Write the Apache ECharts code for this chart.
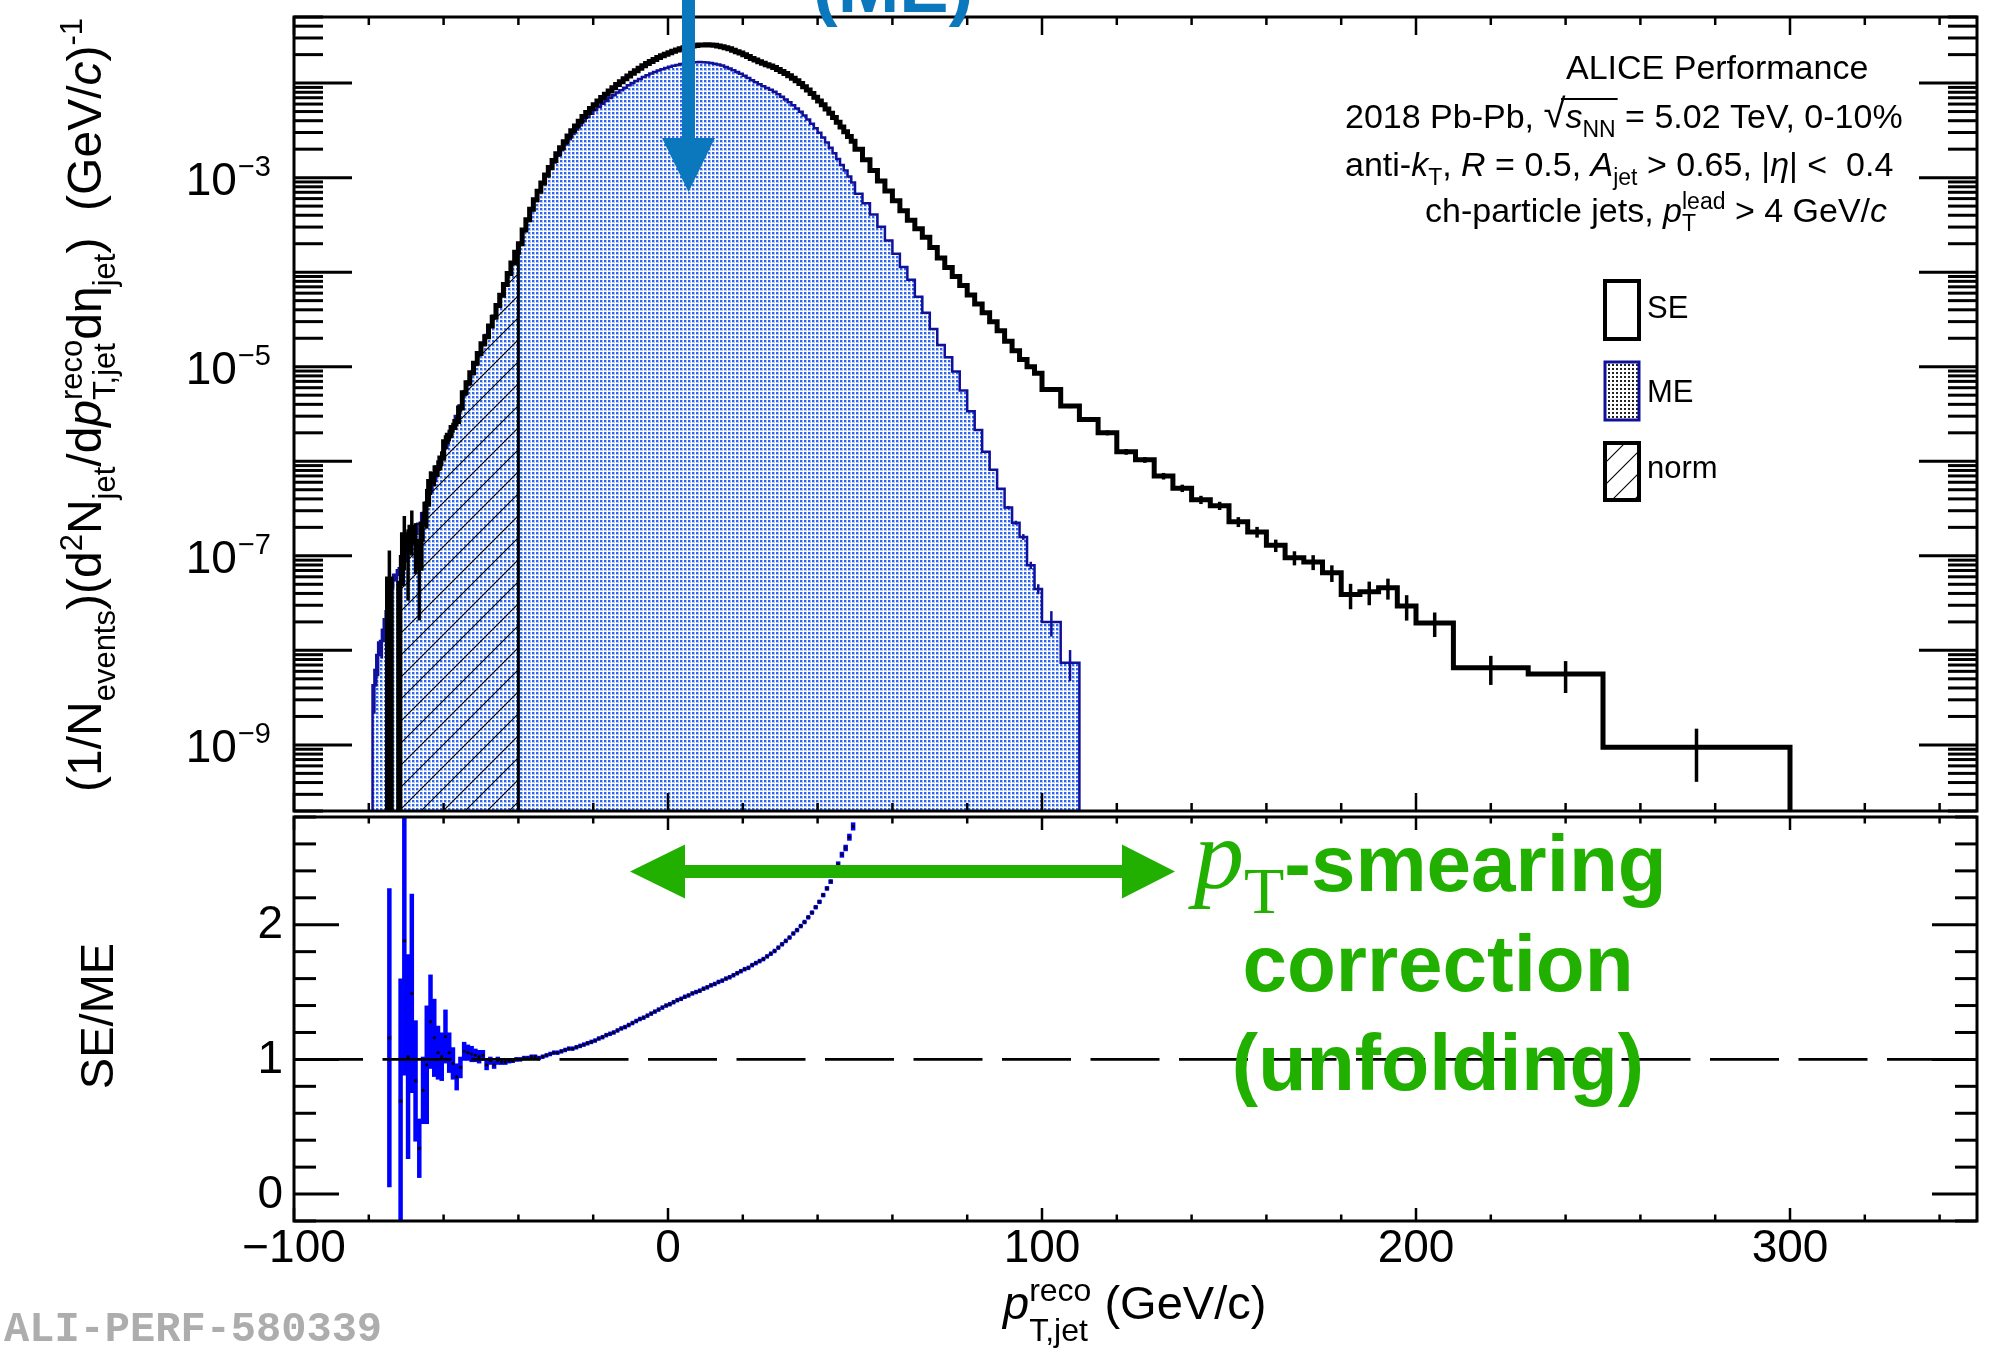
<!DOCTYPE html>
<html><head><meta charset="utf-8">
<script src="https://cdn.jsdelivr.net/npm/echarts@6/dist/echarts.min.js"></script>
<style>html,body{margin:0;padding:0;background:#fff}#c{width:2003px;height:1349px}</style>
</head><body><div id="c"></div>
<script>
// ================= DATA =================
const binEdges = [
  -80,-79,-78,-77,-76,-75,-74,-73,-72,-71,-70,-69,-68,-67,-66,-65,-64,-63,-62,-61,
  -60,-59,-58,-57,-56,-55,-54,-53,-52,-51,-50,-49,-48,-47,-46,-45,-44,-43,-42,-41,
  -40,-39,-38,-37,-36,-35,-34,-33,-32,-31,-30,-29,-28,-27,-26,-25,-24,-23,-22,-21,
  -20,-19,-18,-17,-16,-15,-14,-13,-12,-11,-10,-9,-8,-7,-6,-5,-4,-3,-2,-1,
  0,1,2,3,4,5,6,7,8,9,10,11,12,13,14,15,16,17,18,19,
  20,21,22,23,24,25,26,27,28,29,30,31,32,33,34,35,36,37,38,39,
  40,41,42,43,44,45,46,47,48,49,50,
  52,54,56,58,60,62,64,66,68,70,72,74,76,78,80,82,84,86,88,90,92,94,96,98,100,
  105,110,115,120,125,130,135,140,145,150,155,160,165,170,175,180,185,190,195,200,
  210,230,250,300
];
// SE (same event) per bin
const seValues = [
  0,0,0,0,0,5.7e-8,0,0,5.1e-8,1.67e-7,
  1.12e-7,2.01e-7,1.43e-7,7.4e-8,2.17e-7,3.52e-7,6.12e-7,7.23e-7,8.53e-7,1.08e-6,
  1.61e-6,1.89e-6,2.28e-6,2.63e-6,3.66e-6,5.31e-6,6.78e-6,8.65e-6,1.09e-5,1.38e-5,
  1.75e-5,2.07e-5,2.70e-5,3.33e-5,4.43e-5,5.70e-5,7.43e-5,9.68e-5,1.25e-4,1.62e-4,
  2.0e-4,2.79e-4,3.59e-4,4.62e-4,5.82e-4,7.16e-4,8.75e-4,1.064e-3,1.28e-3,1.52e-3,
  1.79e-3,2.07e-3,2.40e-3,2.75e-3,3.13e-3,3.51e-3,3.94e-3,4.42e-3,4.90e-3,5.37e-3,
  5.89e-3,6.46e-3,7.03e-3,7.62e-3,8.26e-3,8.95e-3,9.66e-3,1.035e-2,1.109e-2,1.189e-2,
  1.271e-2,1.352e-2,1.435e-2,1.521e-2,1.607e-2,1.694e-2,1.778e-2,1.862e-2,1.945e-2,2.023e-2,
  2.099e-2,2.173e-2,2.244e-2,2.312e-2,2.366e-2,2.415e-2,2.46e-2,2.495e-2,2.523e-2,2.535e-2,
  2.541e-2,2.529e-2,2.506e-2,2.472e-2,2.427e-2,2.371e-2,2.301e-2,2.223e-2,2.148e-2,2.075e-2,
  1.995e-2,1.905e-2,1.824e-2,1.754e-2,1.683e-2,1.618e-2,1.563e-2,1.517e-2,1.462e-2,1.396e-2,
  1.33e-2,1.262e-2,1.194e-2,1.127e-2,1.059e-2,9.89e-3,9.16e-3,8.45e-3,7.76e-3,7.08e-3,
  6.46e-3,5.89e-3,5.33e-3,4.81e-3,4.32e-3,3.85e-3,3.43e-3,3.05e-3,2.72e-3,2.43e-3,
  1.995e-3,1.549e-3,1.189e-3,9.23e-4,7.24e-4,5.69e-4,4.47e-4,3.55e-4,2.88e-4,2.34e-4,
  1.82e-4,1.41e-4,1.12e-4,9.02e-5,7.24e-5,5.75e-5,4.62e-5,3.72e-5,2.99e-5,2.40e-5,
  1.86e-5,1.48e-5,1.19e-5,1.0e-5,8.51e-6,5.75e-6,3.84e-6,2.77e-6,2.0e-6,1.26e-6,
  1.035e-6,6.97e-7,5.19e-7,3.92e-7,3.39e-7,2.29e-7,1.79e-7,1.29e-7,9.55e-8,8.61e-8,
  6.61e-8,3.89e-8,4.17e-8,4.59e-8,2.95e-8,1.95e-8,6.53e-9,5.62e-9,9.46e-10
];
// SE relative errors [binIndex, relErr]
const seRelErr = [
  [5,1.0],[8,1.0],[9,0.58],[10,0.7],[11,0.5],[12,0.55],[13,0.72],[14,0.35],[15,0.45],[16,0.28],
  [17,0.25],[18,0.2],[19,0.18],[20,0.17],[21,0.14],[22,0.12],[23,0.11],[24,0.09],[25,0.07],[26,0.06],
  [27,0.05],[28,0.05],[29,0.04],[30,0.035],
  [155,0.04],[156,0.05],[157,0.05],[158,0.06],[159,0.07],[160,0.07],[161,0.08],[162,0.09],[163,0.1],
  [164,0.1],[165,0.12],[166,0.13],[167,0.15],[168,0.17],[169,0.18],[170,0.2],[171,0.3],[172,0.28],
  [173,0.25],[174,0.3],[175,0.29],[176,0.34],[177,0.37],[178,0.57]
];
// ME (mixed event) per bin
const meValues = [
  0,4.27e-9,8.91e-9,1.26e-8,2.14e-8,4.9e-8,5.50e-8,6.31e-8,7.41e-8,8.91e-8,
  1.10e-7,1.35e-7,1.70e-7,2.19e-7,2.82e-7,3.67e-7,4.79e-7,6.24e-7,8.13e-7,1.06e-6,
  1.38e-6,1.80e-6,2.34e-6,3.02e-6,3.89e-6,5.01e-6,6.46e-6,8.32e-6,1.06e-5,1.35e-5,
  1.70e-5,2.16e-5,2.72e-5,3.47e-5,4.47e-5,5.82e-5,7.59e-5,9.77e-5,1.26e-4,1.62e-4,
  2.0e-4,2.76e-4,3.55e-4,4.53e-4,5.71e-4,7.09e-4,8.58e-4,1.033e-3,1.231e-3,1.448e-3,
  1.705e-3,1.953e-3,2.243e-3,2.546e-3,2.898e-3,3.22e-3,3.582e-3,3.982e-3,4.375e-3,4.752e-3,
  5.167e-3,5.593e-3,6.034e-3,6.458e-3,6.941e-3,7.458e-3,7.951e-3,8.415e-3,8.944e-3,9.474e-3,
  1.001e-2,1.052e-2,1.104e-2,1.161e-2,1.213e-2,1.264e-2,1.312e-2,1.359e-2,1.404e-2,1.445e-2,
  1.489e-2,1.525e-2,1.558e-2,1.594e-2,1.615e-2,1.637e-2,1.651e-2,1.663e-2,1.671e-2,1.662e-2,
  1.655e-2,1.632e-2,1.606e-2,1.57e-2,1.531e-2,1.482e-2,1.429e-2,1.368e-2,1.31e-2,1.254e-2,
  1.195e-2,1.134e-2,1.073e-2,1.023e-2,9.73e-3,9.27e-3,8.86e-3,8.50e-3,8.10e-3,7.63e-3,
  7.17e-3,6.71e-3,6.27e-3,5.82e-3,5.40e-3,4.97e-3,4.53e-3,4.11e-3,3.71e-3,3.32e-3,
  2.98e-3,2.65e-3,2.35e-3,2.07e-3,1.81e-3,1.57e-3,1.36e-3,1.19e-3,1.03e-3,8.9e-4,
  6.76e-4,5.37e-4,4.07e-4,3.02e-4,2.16e-4,1.57e-4,1.135e-4,8.32e-5,5.50e-5,3.72e-5,
  2.51e-5,1.70e-5,1.26e-5,8.91e-6,5.62e-6,3.39e-6,2.14e-6,1.26e-6,8.13e-7,5.13e-7,
  3.24e-7,2.24e-7,1.585e-7,7.94e-8,4.47e-8,2.0e-8,7.41e-9
];
const meRelErr = [
  [1,0.5],[2,0.4],[3,0.35],[4,0.25],[5,0.2],[6,0.18],[7,0.15],[8,0.12],[9,0.1],[10,0.09],[11,0.08],
  [150,0.04],[151,0.05],[152,0.07],[153,0.09],[154,0.12],[155,0.3],[156,0.36]
];
// SE/ME ratio per 1-GeV bin (bins 0..129)
const ratioValues = [
  null,null,null,null,null,1.16,null,null,0.69,1.88,
  1.02,1.49,0.84,0.34,0.77,0.96,1.28,1.16,1.05,1.02,
  1.17,1.05,0.97,0.87,0.94,1.06,1.05,1.04,1.03,1.02,
  1.03,0.96,0.99,0.96,0.99,0.98,0.98,0.99,0.99,1.0,
  1.0,1.01,1.01,1.02,1.02,1.01,1.02,1.03,1.04,1.05,
  1.05,1.06,1.07,1.08,1.08,1.09,1.10,1.11,1.12,1.13,
  1.14,1.155,1.165,1.18,1.19,1.20,1.215,1.23,1.24,1.255,
  1.27,1.285,1.30,1.31,1.325,1.34,1.355,1.37,1.385,1.40,
  1.41,1.425,1.44,1.45,1.465,1.475,1.49,1.50,1.51,1.525,
  1.535,1.55,1.56,1.575,1.585,1.60,1.61,1.625,1.64,1.655,
  1.67,1.68,1.70,1.715,1.73,1.745,1.765,1.785,1.805,1.83,
  1.855,1.88,1.905,1.935,1.96,1.99,2.02,2.055,2.09,2.13,
  2.17,2.22,2.27,2.32,2.39,2.45,2.52,2.57,2.65,2.73
];
const ratioErrors = [
  0,0,0,0,0,1.11,0,0,0.91,1.0,
  0.76,0.74,0.45,0.22,0.25,0.44,0.35,0.29,0.2,0.18,
  0.2,0.15,0.12,0.1,0.08,0.07,0.06,0.06,0.05,0.05,
  0.04,0.04,0.03,0.03,0.03,0.02,0.02,0.02,0.015,0.015,
  0.012,0.01,0.01,0.01,0.01,0.01,0.008,0.008,0.008,0.008,
  0.007,0.007,0.007,0.007,0.007,0.007,0.007,0.007,0.007,0.007,
  0.006,0.006,0.006,0.006,0.006,0.006,0.006,0.006,0.006,0.006,
  0.005,0.005,0.005,0.005,0.005,0.005,0.005,0.005,0.005,0.005,
  0.005,0.005,0.005,0.005,0.005,0.005,0.005,0.005,0.005,0.005,
  0.005,0.005,0.005,0.005,0.005,0.005,0.005,0.005,0.005,0.005,
  0.006,0.006,0.006,0.006,0.006,0.006,0.006,0.006,0.006,0.006,
  0.007,0.007,0.008,0.008,0.009,0.009,0.01,0.01,0.011,0.012,
  0.013,0.014,0.015,0.016,0.018,0.02,0.022,0.024,0.026,0.03
];
const normRange = [-72, -40];
// axis ticks
const xMajorTicks = [-100, 0, 100, 200, 300];
const xMajorLabels = ['\u2212100', '0', '100', '200', '300'];
const xMinorTicks = [-80,-60,-40,-20,20,40,60,80,120,140,160,180,220,240,260,280,320,340];
const logDecades = [1e-10,1e-9,1e-8,1e-7,1e-6,1e-5,1e-4,1e-3,1e-2];
const logMinorMultipliers = [2,3,4,5,6,7,8,9];
const logLabelValues = [1e-3, 1e-5, 1e-7, 1e-9];
const logLabelExps = ['\u22123', '\u22125', '\u22127', '\u22129'];
const ratioMajorTicks = [0, 1, 2];
const ratioMajorLabels = ['0', '1', '2'];
const ratioMinorTicks = [-0.2,0.2,0.4,0.6,0.8,1.2,1.4,1.6,1.8,2.2,2.4,2.6,2.8];

// ================= STYLE =================
const SANS = '"Liberation Sans", Arial, Helvetica, sans-serif';
const SERIF = '"Liberation Serif", "Times New Roman", serif';
const MONO = '"Liberation Mono", "Courier New", monospace';
const ANN_BLUE = '#0b77bd';
const GREEN = '#22b000';
const NAVY = '#10109a';
const YMIN = 2e-10, YMAX = 0.05;

function dotPattern(color, halo) {
  const c = document.createElement('canvas'); c.width = 4; c.height = 4;
  const g = c.getContext('2d');
  if (halo) { g.fillStyle = halo; g.fillRect(0, 0, 3, 3); }
  g.fillStyle = color; g.fillRect(0, 0, 2, 2);
  return c;
}
function hatchPattern(step) {
  const c = document.createElement('canvas'); c.width = step; c.height = step;
  const g = c.getContext('2d');
  g.strokeStyle = '#000'; g.lineWidth = 1.1;
  g.beginPath();
  g.moveTo(0, step); g.lineTo(step, 0);
  g.moveTo(-2, 2); g.lineTo(2, -2);
  g.moveTo(step - 2, step + 2); g.lineTo(step + 2, step - 2);
  g.stroke();
  return c;
}
const meFill = { image: dotPattern('#2d67f0', '#b3c7f8'), repeat: 'repeat' };
const legendDots = { image: dotPattern('#222', null), repeat: 'repeat' };
const hatchFill = { image: hatchPattern(22), repeat: 'repeat' };

// ---------- text layout helper ----------
const _ctx = document.createElement('canvas').getContext('2d');
function layout(tokens) {
  let w = 0, pend = 0; const items = [];
  tokens.forEach(t => {
    const font = (t.it ? 'italic ' : '') + (t.b ? 'bold ' : '') + t.s + 'px ' + (t.f || SANS);
    _ctx.font = font; const tw = _ctx.measureText(t.t).width;
    items.push(Object.assign({}, t, { x: w, w: tw, font }));
    if (t.stack) pend = tw; else { w += Math.max(tw, pend); pend = 0; }
  });
  return { items, width: w };
}
function textEl(it, x, base, color, z) {
  return { type: 'text', x: x, y: base + (it.dy || 0) - 0.34 * it.s, z: z || 50, silent: true,
    style: { text: it.t, font: it.font, fill: it.c || color, align: 'left', verticalAlign: 'middle' } };
}
const graphics = [];
function addText(tokens, x0, base, color, align) {
  const r = layout(tokens);
  let sx = x0;
  if (align === 'center') sx = x0 - r.width / 2; else if (align === 'right') sx = x0 - r.width;
  r.items.forEach(it => graphics.push(textEl(it, sx + it.x, base, color)));
  return { sx, r };
}
function addRotText(tokens, baseX, centerY, color) {
  const r = layout(tokens);
  const children = r.items.map(it => textEl(it, it.x, 0, color));
  graphics.push({ type: 'group', x: baseX, y: centerY + r.width / 2, rotation: Math.PI / 2, z: 50, children });
}

// ================= CHART =================
const chart = echarts.init(document.getElementById('c'), null, { renderer: 'canvas' });

function histRender(vals, opts) {
  return function (params, api) {
    const cs = params.coordSys; const bottom = cs.y + cs.height;
    const yOf = v => (v > YMIN ? api.coord([0, v])[1] : bottom + 3);
    const xOf = x => api.coord([x, 1e-3])[0];
    const i0 = opts.from || 0, i1 = (opts.to == null ? vals.length - 1 : opts.to);
    const pts = [[xOf(binEdges[i0]), bottom + 3]];
    for (let i = i0; i <= i1; i++) {
      const y = yOf(vals[i]);
      pts.push([xOf(binEdges[i]), y], [xOf(binEdges[i + 1]), y]);
    }
    pts.push([xOf(binEdges[i1 + 1]), bottom + 3]);
    const ch = [];
    if (opts.fill) ch.push({ type: 'polygon', shape: { points: pts }, style: { fill: opts.fill, stroke: 'none' } });
    if (opts.stroke) ch.push({ type: 'polyline', shape: { points: pts }, style: { stroke: opts.stroke, lineWidth: opts.lw, fill: 'none', lineJoin: 'miter' } });
    if (opts.err) {
      opts.err.forEach(([i, rel]) => {
        const v = vals[i]; if (!(v > 0)) return;
        const xc = (xOf(binEdges[i]) + xOf(binEdges[i + 1])) / 2;
        const hi = v * (1 + rel), lo = v * (1 - rel);
        ch.push({ type: 'line', shape: { x1: xc, y1: yOf(hi), x2: xc, y2: yOf(lo) }, style: { stroke: opts.errColor, lineWidth: opts.errW } });
      });
    }
    return { type: 'group', children: ch };
  };
}

function ratioRender(params, api) {
  const cs = params.coordSys; const T = cs.y, B = cs.y + cs.height;
  const cl = y => Math.max(T, Math.min(B, y));
  const blue = [], dots = [];
  for (let i = 0; i < ratioValues.length; i++) {
    const r = ratioValues[i]; if (r == null) continue;
    const e = ratioErrors[i] || 0;
    const xl = api.coord([binEdges[i], r])[0], xr = api.coord([binEdges[i + 1], r])[0];
    const xc = (xl + xr) / 2; const y = api.coord([0, r])[1];
    const yt = cl(api.coord([0, r + e])[1]), yb = cl(api.coord([0, r - e])[1]);
    if (y >= T && y <= B) blue.push({ type: 'line', shape: { x1: xl, y1: y, x2: xr, y2: y }, style: { stroke: '#0000ff', lineWidth: 4.5 } });
    blue.push({ type: 'line', shape: { x1: xc, y1: yt, x2: xc, y2: yb }, style: { stroke: '#0000ff', lineWidth: 4.5 } });
    if (y >= T && y <= B) dots.push({ type: 'circle', shape: { cx: xc, cy: y, r: 1.6 }, style: { fill: '#000' } });
  }
  return { type: 'group', children: blue.concat(dots) };
}

function unityRender(params, api) {
  const a = api.coord([-100, 1]), b = api.coord([350, 1]);
  return { type: 'line', shape: { x1: a[0], y1: a[1], x2: b[0], y2: b[1] },
    style: { stroke: '#000', lineWidth: 2.7, lineDash: [69, 19.5], fill: 'none' } };
}

function txt(t, x, y, size, align, vAlign) {
  return { type: 'text', x, y, style: { text: t, font: size + 'px ' + SANS, fill: '#000', align: align, verticalAlign: vAlign || 'middle' } };
}

function frameRender(panel) {
  return function (params, api) {
    const cs = params.coordSys; const L = cs.x, T = cs.y, R = cs.x + cs.width, B = cs.y + cs.height;
    const ch = [];
    const ln = (x1, y1, x2, y2, w) => ch.push({ type: 'line', shape: { x1, y1, x2, y2 }, style: { stroke: '#000', lineWidth: w } });
    const yRef = panel === 0 ? 1e-3 : 1;
    const maj = panel === 0 ? 18 : 13, mnr = panel === 0 ? 8 : 6.5;
    xMajorTicks.forEach(x => { const X = api.coord([x, yRef])[0]; ln(X, B, X, B - maj, 2.5); ln(X, T, X, T + maj, 2.5); });
    xMinorTicks.forEach(x => { const X = api.coord([x, yRef])[0]; ln(X, B, X, B - mnr, 2.5); ln(X, T, X, T + mnr, 2.5); });
    if (panel === 0) {
      logDecades.forEach(d => {
        const Y = api.coord([-100, d])[1];
        if (Y >= T - 1 && Y <= B + 1) { ln(L, Y, L + 58, Y, 3); ln(R, Y, R - 58, Y, 3); }
        logMinorMultipliers.forEach(k => {
          const v = k * d; if (v < YMIN * 0.999 || v > YMAX * 1.001) return;
          const Ym = api.coord([-100, v])[1];
          ln(L, Ym, L + 29, Ym, 3); ln(R, Ym, R - 29, Ym, 3);
        });
      });
      logLabelValues.forEach((v, i) => {
        const Y = api.coord([-100, v])[1];
        _ctx.font = '29px ' + SANS; const ws = _ctx.measureText(logLabelExps[i]).width;
        const right = 271;
        ch.push({ type: 'text', x: right, y: Y - 0.34 * 29, style: { text: logLabelExps[i], font: '29px ' + SANS, fill: '#000', align: 'right', verticalAlign: 'middle' } });
        ch.push({ type: 'text', x: right - ws - 1, y: Y + 20 - 0.34 * 46, style: { text: '10', font: '46px ' + SANS, fill: '#000', align: 'right', verticalAlign: 'middle' } });
      });
    } else {
      ratioMajorTicks.forEach((v, i) => {
        const Y = api.coord([-100, v])[1];
        ln(L, Y, L + 45, Y, 3); ln(R, Y, R - 45, Y, 3);
        ch.push(txt(ratioMajorLabels[i], 283, Y + 1, 46, 'right'));
      });
      ratioMinorTicks.forEach(v => { const Y = api.coord([-100, v])[1]; ln(L, Y, L + 22, Y, 3); ln(R, Y, R - 22, Y, 3); });
      xMajorTicks.forEach((x, i) => {
        const X = api.coord([x, 1])[0];
        ch.push(txt(xMajorLabels[i], X, 1265 - 0.34 * 46, 46, 'center'));
      });
    }
    ch.push({ type: 'rect', shape: { x: L, y: T, width: R - L, height: B - T }, style: { fill: 'none', stroke: '#000', lineWidth: 3 } });
    return { type: 'group', children: ch };
  };
}

const normFrom = binEdges.indexOf(normRange[0]);
const normTo = binEdges.indexOf(normRange[1]) - 1;

// ---------- annotations ----------
addRotText([
  { t: '(1/N', s: 48 }, { t: 'events', s: 31, dy: 13 }, { t: ')(d', s: 48 }, { t: '2', s: 31, dy: -20 },
  { t: 'N', s: 48 }, { t: 'jet', s: 31, dy: 13 }, { t: '/d', s: 48 }, { t: 'p', s: 48, it: true },
  { t: 'reco', s: 31, dy: -20, stack: true }, { t: 'T,jet', s: 31, dy: 13 }, { t: 'd', s: 48 }, { t: '\u03b7', s: 48 },
  { t: 'jet', s: 31, dy: 13 }, { t: ')  (GeV/', s: 48 }, { t: 'c', s: 48, it: true }, { t: ')', s: 48 }, { t: '-1', s: 31, dy: -20 }
], 104, 405, '#000');
addRotText([{ t: 'SE/ME', s: 47 }], 116, 1016, '#000');
addText([{ t: 'p', s: 47, it: true }, { t: 'reco', s: 32, dy: -19, stack: true }, { t: 'T,jet', s: 32, dy: 21 }, { t: ' (GeV/c)', s: 47 }], 1003, 1322, '#000');
addText([{ t: 'ALICE Performance', s: 34 }], 1566, 81, '#000');
const l2 = addText([{ t: '2018 Pb-Pb, ', s: 34 }, { t: '\u221a', s: 40 }, { t: 's', s: 34, it: true }, { t: 'NN', s: 23, dy: 8 }, { t: ' = 5.02 TeV, 0-10%', s: 34 }], 1345, 130, '#000');
(function () {
  const it1 = l2.r.items[1], it3 = l2.r.items[3];
  graphics.push({ type: 'line', z: 50, shape: { x1: l2.sx + it1.x + it1.w * 0.8, y1: 99, x2: l2.sx + it3.x + it3.w + 2, y2: 99 }, style: { stroke: '#000', lineWidth: 2 } });
})();
addText([{ t: 'anti-', s: 34 }, { t: 'k', s: 34, it: true }, { t: 'T', s: 23, dy: 8 }, { t: ', ', s: 34 }, { t: 'R', s: 34, it: true },
  { t: ' = 0.5, ', s: 34 }, { t: 'A', s: 34, it: true }, { t: 'jet', s: 23, dy: 8 }, { t: ' > 0.65, |', s: 34 }, { t: '\u03b7', s: 34, it: true }, { t: '| <  0.4', s: 34 }], 1345, 178, '#000');
addText([{ t: 'ch-particle jets, ', s: 34 }, { t: 'p', s: 34, it: true }, { t: 'lead', s: 23, dy: -14, stack: true }, { t: 'T', s: 23, dy: 8 },
  { t: ' > 4 GeV/', s: 34 }, { t: 'c', s: 34, it: true }], 1425, 224, '#000');
graphics.push({ type: 'rect', z: 50, shape: { x: 1605, y: 281, width: 34, height: 58 }, style: { fill: '#fff', stroke: '#000', lineWidth: 4 } });
graphics.push({ type: 'rect', z: 50, shape: { x: 1605, y: 362, width: 34, height: 58 }, style: { fill: legendDots, stroke: NAVY, lineWidth: 3 } });
graphics.push({ type: 'rect', z: 50, shape: { x: 1605, y: 443, width: 34, height: 57 }, style: { fill: hatchFill, stroke: '#000', lineWidth: 4 } });
addText([{ t: 'SE', s: 31 }], 1647, 320, '#000');
addText([{ t: 'ME', s: 31 }], 1647, 404, '#000');
addText([{ t: 'norm', s: 31 }], 1647, 480, '#000');
graphics.push({ type: 'polygon', z: 60, shape: { points: [[682, -5], [695, -5], [695, 138], [715, 138], [688.5, 192], [662, 138], [682, 138]] }, style: { fill: ANN_BLUE } });
addText([{ t: '(ME)', s: 74, b: true }], 813, 17, ANN_BLUE);
graphics.push({ type: 'polygon', z: 60, shape: { points: [[630, 871.5], [685, 844.5], [685, 865], [1122, 865], [1122, 844.5], [1175, 871.5], [1122, 898.5], [1122, 878], [685, 878], [685, 898.5]] }, style: { fill: GREEN } });
addText([{ t: 'p', s: 100, it: true, f: SERIF }, { t: 'T', s: 66, dy: 22, f: SERIF }, { t: '-smearing', s: 80, b: true }], 1194, 896, GREEN);
addText([{ t: 'correction', s: 80, b: true }], 1438, 996, GREEN, 'center');
addText([{ t: '(unfolding)', s: 79, b: true }], 1438, 1095, GREEN, 'center');
addText([{ t: 'ALI-PERF-580339', s: 42, b: true, f: MONO }], 4, 1345, '#adadad');

const option = {
  animation: false,
  backgroundColor: '#ffffff',
  grid: [
    { left: 294, top: 17, width: 1683, height: 794, show: false },
    { left: 294, top: 817, width: 1683, height: 404, show: false }
  ],
  xAxis: [
    { type: 'value', gridIndex: 0, min: -100, max: 350, show: false },
    { type: 'value', gridIndex: 1, min: -100, max: 350, show: false }
  ],
  yAxis: [
    { type: 'log', logBase: 10, gridIndex: 0, min: YMIN, max: YMAX, show: false },
    { type: 'value', gridIndex: 1, min: -0.2, max: 2.8, show: false }
  ],
  series: [
    { type: 'custom', name: 'ME', xAxisIndex: 0, yAxisIndex: 0, clip: true, silent: true, z: 2, data: [[0, 1e-3]],
      renderItem: histRender(meValues, { fill: meFill, stroke: NAVY, lw: 2.5, err: meRelErr, errColor: NAVY, errW: 2.5 }) },
    { type: 'custom', name: 'norm', xAxisIndex: 0, yAxisIndex: 0, clip: true, silent: true, z: 3, data: [[0, 1e-3]],
      renderItem: histRender(seValues, { from: normFrom, to: normTo, fill: hatchFill, stroke: '#000', lw: 3 }) },
    { type: 'custom', name: 'SE', xAxisIndex: 0, yAxisIndex: 0, clip: true, silent: true, z: 4, data: [[0, 1e-3]],
      renderItem: histRender(seValues, { stroke: '#000', lw: 5, err: seRelErr, errColor: '#000', errW: 3.5 }) },
    { type: 'custom', name: 'frame0', xAxisIndex: 0, yAxisIndex: 0, clip: false, silent: true, z: 10, data: [[0, 1e-3]],
      renderItem: frameRender(0) },
    { type: 'custom', name: 'SE/ME', xAxisIndex: 1, yAxisIndex: 1, clip: true, silent: true, z: 2, data: [[0, 1]],
      renderItem: ratioRender },
    { type: 'custom', name: 'unity', xAxisIndex: 1, yAxisIndex: 1, clip: true, silent: true, z: 3, data: [[0, 1]],
      renderItem: unityRender },
    { type: 'custom', name: 'frame1', xAxisIndex: 1, yAxisIndex: 1, clip: false, silent: true, z: 10, data: [[0, 1]],
      renderItem: frameRender(1) }
  ],
  graphic: { elements: graphics }
};
chart.setOption(option);
</script>
</body></html>
